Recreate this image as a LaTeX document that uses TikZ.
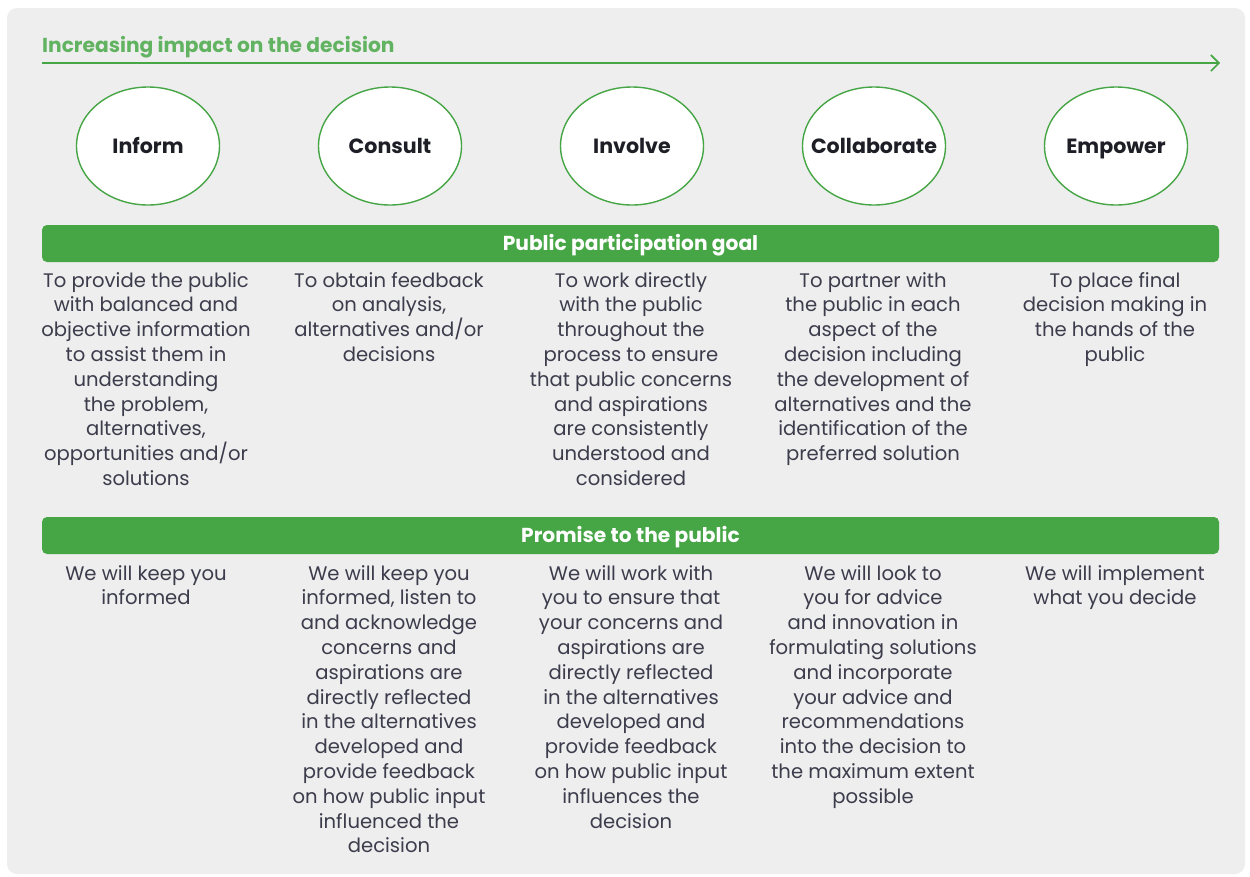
\documentclass[tikz,border=0pt]{standalone}
\usepackage{fontspec}
\setmainfont{Poppins}
\usetikzlibrary{shapes.geometric,arrows.meta}
\definecolor{iapgreen}{HTML}{46A645}
\definecolor{paneltone}{HTML}{EEEEEE}
\definecolor{inktone}{HTML}{3C3C4C}
\begin{document}
\begin{tikzpicture}[x=1pt,y=-1pt,
    stage/.style={ellipse,draw=iapgreen,line width=1.4pt,fill=white,
        minimum width=143pt,minimum height=118pt,inner sep=0pt},
    stagetext/.style={inner sep=0pt,text height=14pt,text depth=0pt,
        text=inktone!50!black,font=\fontsize{20.6}{24}\selectfont\bfseries},
    bar/.style={rounded corners=5pt,fill=iapgreen,text=white,
        minimum width=1177pt,minimum height=37pt,inner sep=0pt,
        text height=14pt,text depth=0pt,
        font=\fontsize{20.2}{24}\selectfont\bfseries},
    blurb/.style={anchor=north,align=center,inner sep=0pt,text=inktone,
        font=\fontsize{19.6}{24.8}\selectfont}]
    \useasboundingbox (0,0) rectangle (1250,876);
    \fill [paneltone,rounded corners=10pt] (7,8) rectangle (1245,874);
    %\draw [black!20] (0,0) grid (1250,876);
    \node [anchor=west,inner sep=0pt,text=iapgreen!85!white,
        font=\fontsize{20.2}{24}\selectfont\bfseries] (title) at (42,47) {Increasing impact on the decision};
    \coordinate (arrow start) at (42,63);
    \coordinate (arrow end) at (1220,63);
    \draw [iapgreen,line width=1.6pt,-{Straight Barb[length=8pt,width=16pt]}] (arrow start) -- (arrow end);
    \foreach \name [count=\i] in {Inform,Consult,Involve,Collaborate,Empower}
        \node [stage,label={[stagetext]center:\name}] (s\i) at ({148+242*(\i-1)},146) {};
    \node [bar] (goal) at (630.5,243.5) {Public participation goal};
    \node [bar] (promise) at (630.5,535.5) {Promise to the public};
    % goal
    \node [blurb] (g1) at (146,272) {To provide the public\\with balanced and\\objective information\\to assist them in\\understanding\\the problem,\\alternatives,\\opportunities and/or\\solutions};
    \node [blurb] (g2) at (389,272) {To obtain feedback\\on analysis,\\alternatives and/or\\decisions};
    \node [blurb] (g3) at (631,272) {To work directly\\with the public\\throughout the\\process to ensure\\that public concerns\\and aspirations\\are consistently\\understood and\\considered};
    \node [blurb] (g4) at (873,272) {To partner with\\the public in each\\aspect of the\\decision including\\the development of\\alternatives and the\\identification of the\\preferred solution};
    \node [blurb] (g5) at (1115,272) {To place final\\decision making in\\the hands of the\\public};
    % promise
    \node [blurb] (p1) at (146,565) {We will keep you\\informed};
    \node [blurb] (p2) at (389,565) {We will keep you\\informed, listen to\\and acknowledge\\concerns and\\aspirations are\\directly reflected\\in the alternatives\\developed and\\provide feedback\\on how public input\\influenced the\\decision};
    \node [blurb] (p3) at (631,565) {We will work with\\you to ensure that\\your concerns and\\aspirations are\\directly reflected\\in the alternatives\\developed and\\provide feedback\\on how public input\\influences the\\decision};
    \node [blurb] (p4) at (873,565) {We will look to\\you for advice\\and innovation in\\formulating solutions\\and incorporate\\your advice and\\recommendations\\into the decision to\\the maximum extent\\possible};
    \node [blurb] (p5) at (1115,565) {We will implement\\what you decide};
\end{tikzpicture}
\end{document}
